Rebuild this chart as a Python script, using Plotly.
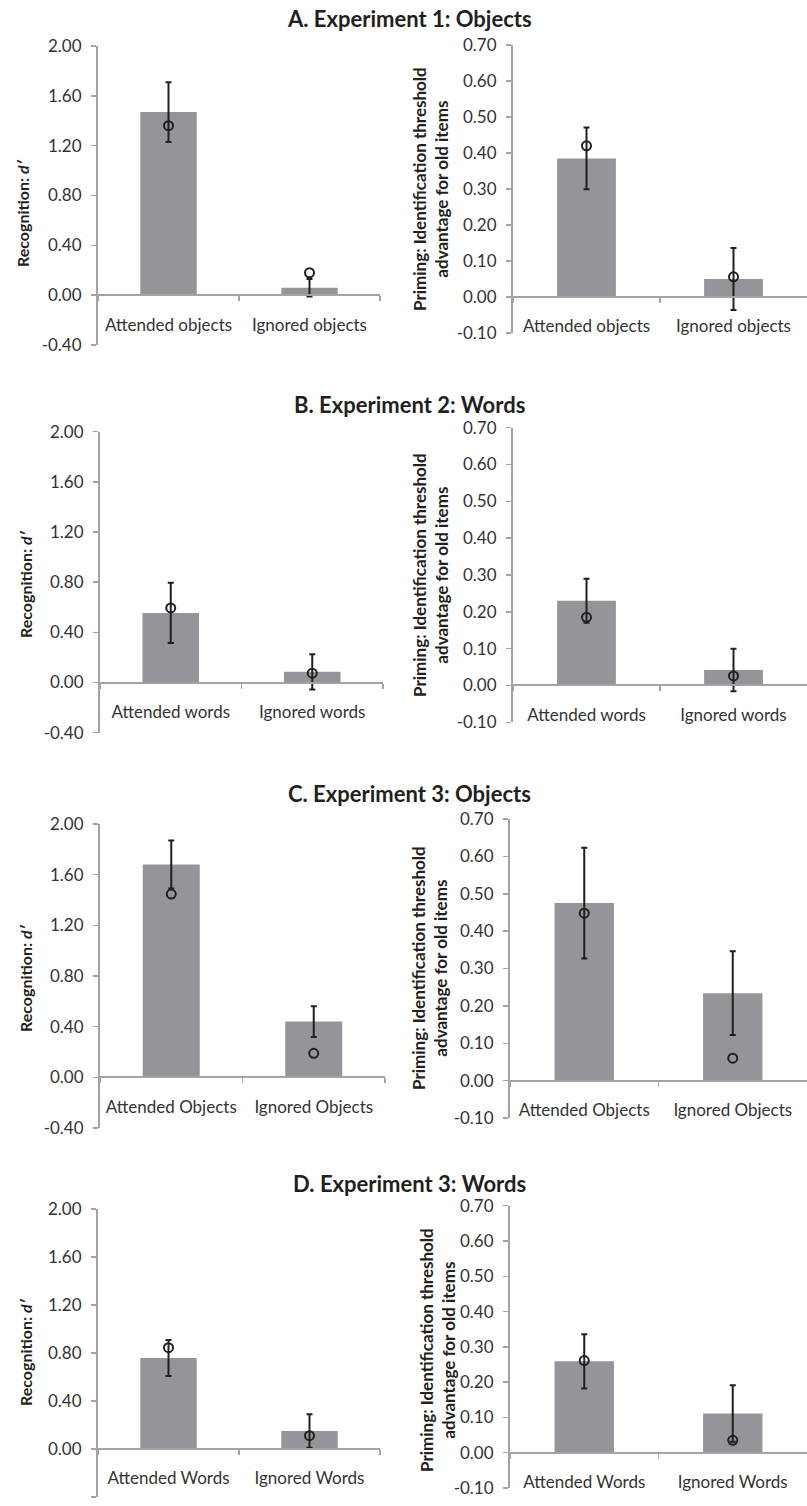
import plotly.graph_objects as go

# ---------------- data ----------------
panel_titles = ["A. Experiment 1: Objects", "B. Experiment 2: Words",
                "C. Experiment 3: Objects", "D. Experiment 3: Words"]

categories_A = ["Attended objects", "Ignored objects"]
categories_B = ["Attended words", "Ignored words"]
categories_C = ["Attended Objects", "Ignored Objects"]
categories_D = ["Attended Words", "Ignored Words"]

# Recognition d' (bars, error, circles)
recog_bar_A = [1.47, 0.06]
recog_err_A = [0.24, 0.07]
recog_circ_A = [1.36, 0.18]
recog_bar_B = [0.555, 0.085]
recog_err_B = [0.24, 0.14]
recog_circ_B = [0.595, 0.075]
recog_bar_C = [1.68, 0.44]
recog_err_C = [0.19, 0.122]
recog_circ_C = [1.447, 0.19]
recog_bar_D = [0.758, 0.15]
recog_err_D = [0.15, 0.14]
recog_circ_D = [0.844, 0.111]

# Priming: identification threshold advantage
prime_bar_A = [0.385, 0.05]
prime_err_A = [0.086, 0.086]
prime_circ_A = [0.42, 0.056]
prime_bar_B = [0.23, 0.042]
prime_err_B = [0.06, 0.058]
prime_circ_B = [0.185, 0.026]
prime_bar_C = [0.475, 0.234]
prime_err_C = [0.148, 0.112]
prime_circ_C = [0.448, 0.06]
prime_bar_D = [0.259, 0.111]
prime_err_D = [0.077, 0.08]
prime_circ_D = [0.261, 0.035]

recog_ticks = [-0.40, 0.00, 0.40, 0.80, 1.20, 1.60, 2.00]
prime_ticks = [-0.10, 0.00, 0.10, 0.20, 0.30, 0.40, 0.50, 0.60, 0.70]

recog_title = "Recognition: <i>d′</i>"
prime_title = "Priming: Identification threshold<br>advantage for old items"

# ---------------- layout geometry (pixels) ----------------
W, H = 807, 1506
FONT = "Lato, 'Open Sans', sans-serif"
BAR_COLOR = "#939598"
AXIS_COLOR = "#a3a3a3"
INK = "#231f20"

# (x0, x1, ytop, ybottom) for each subplot
boxes = [
    (98, 380, 46, 345), (513, 808, 45, 333),
    (100, 383, 431.7, 732.7), (513, 808, 427.7, 722.3),
    (100, 385, 824, 1128), (510, 808, 819, 1118),
    (98, 380, 1209, 1497), (510, 808, 1205.7, 1488),
]
title_y = [19, 404, 793, 1183]
ytitle_pos = [(23, 213), (430, 189), (25, 584), (430, 575),
              (25, 978), (429, 968), (25, 1352), (437, 1350)]

cats = [categories_A, categories_B, categories_C, categories_D]
recog = [(recog_bar_A, recog_err_A, recog_circ_A), (recog_bar_B, recog_err_B, recog_circ_B),
         (recog_bar_C, recog_err_C, recog_circ_C), (recog_bar_D, recog_err_D, recog_circ_D)]
prime = [(prime_bar_A, prime_err_A, prime_circ_A), (prime_bar_B, prime_err_B, prime_circ_B),
         (prime_bar_C, prime_err_C, prime_circ_C), (prime_bar_D, prime_err_D, prime_circ_D)]

fig = go.Figure()
layout = dict(width=W, height=H, margin=dict(l=0, r=0, t=0, b=0, pad=0, autoexpand=False),
              plot_bgcolor="white", paper_bgcolor="white", showlegend=False,
              font=dict(family=FONT, color="#333333"))
annotations = []

idx = 0
for p in range(4):
    for side in range(2):
        idx += 1
        sfx = "" if idx == 1 else str(idx)
        bar, err, circ = (recog if side == 0 else prime)[p]
        ticks = recog_ticks if side == 0 else prime_ticks
        ymin, ymax = ticks[0], ticks[-1]
        x0, x1, yt, yb = boxes[idx - 1]
        xd = [x0 / W, min(x1 / W, 1.0)]
        yd = [1 - yb / H, 1 - yt / H]
        zero_pos = yd[0] + (0 - ymin) / (ymax - ymin) * (yd[1] - yd[0])

        fig.add_trace(go.Bar(
            x=cats[p], y=bar, width=0.4, marker=dict(color=BAR_COLOR, line=dict(width=0)),
            error_y=dict(type="data", array=err, visible=True, color=INK, thickness=2, width=3),
            xaxis="x" + sfx, yaxis="y" + sfx, hoverinfo="skip"))
        fig.add_trace(go.Scatter(
            x=cats[p], y=circ, mode="markers",
            marker=dict(symbol="circle-open", size=9, color=INK, line=dict(width=2, color=INK)),
            xaxis="x" + sfx, yaxis="y" + sfx, hoverinfo="skip"))

        layout["xaxis" + sfx] = dict(
            domain=xd, anchor="free", position=zero_pos, type="category",
            range=[-0.5, 1.5], showline=True, linecolor=AXIS_COLOR, linewidth=2,
            ticks="outside", tickson="boundaries", ticklen=5, tickwidth=1.5,
            tickcolor=AXIS_COLOR, showgrid=False, zeroline=False, automargin=False,
            tickfont=dict(family=FONT, size=17, color="#333333"),
            ticklabelstandoff=14, fixedrange=True)
        layout["yaxis" + sfx] = dict(
            domain=yd, anchor="x" + sfx, range=[ymin, ymax],
            tickvals=ticks, ticktext=["%.2f" % t for t in ticks],
            showline=True, linecolor=AXIS_COLOR, linewidth=2,
            ticks="outside", ticklen=5, tickwidth=1.5, tickcolor=AXIS_COLOR,
            showgrid=False, zeroline=False, automargin=False,
            tickfont=dict(family=FONT, size=17, color="#333333"),
            ticklabelstandoff=6, fixedrange=True)

        tx, ty = ytitle_pos[idx - 1]
        annotations.append(dict(
            text="<b>" + (recog_title if side == 0 else prime_title) + "</b>",
            x=tx / W, y=1 - ty / H, xref="paper", yref="paper",
            textangle=-90, showarrow=False, xanchor="center", yanchor="middle",
            font=dict(family=FONT, size=(16 if side == 0 else 17), color=INK)))

    annotations.append(dict(
        text="<b>" + panel_titles[p] + "</b>", x=409 / W, y=1 - title_y[p] / H,
        xref="paper", yref="paper", showarrow=False, xanchor="center", yanchor="middle",
        font=dict(family=FONT, size=22, color=INK)))

layout["annotations"] = annotations
fig.update_layout(**layout)
fig.write_html("out.html", config={"displayModeBar": False, "staticPlot": True},
               post_script="document.body.style.margin='0px';")
